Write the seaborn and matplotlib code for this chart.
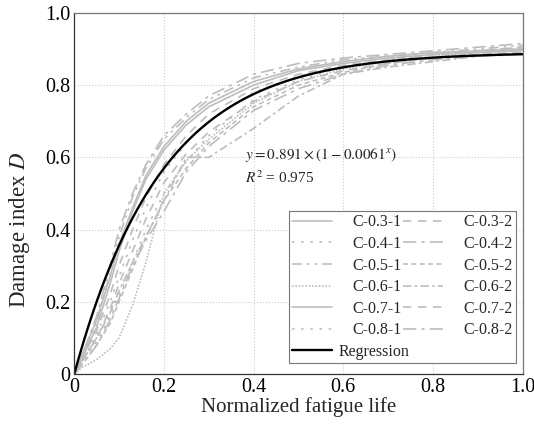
import numpy as np
import pandas as pd
import matplotlib
matplotlib.use("Agg")
import matplotlib.pyplot as plt
import seaborn as sns
from matplotlib.ticker import FuncFormatter
from matplotlib.transforms import Affine2D

sns.set_style("white")
plt.rcParams['font.family'] = ['Liberation Serif', 'DejaVu Serif']
plt.rcParams['mathtext.fontset'] = 'stix'

# normalized fatigue life (common sampling for the test curves)
vida = [0, 0.02, 0.05, 0.08, 0.10, 0.13, 0.16, 0.20, 0.25, 0.30,
        0.40, 0.50, 0.60, 0.70, 0.80, 0.90, 1.0]

# damage index D
c03_1 = [0, .06, .15, .27, .36, .46, .55, .63, .70, .75, .81, .845, .865, .88, .89, .895, .90]
c03_2 = [0, .05, .12, .22, .30, .40, .49, .58, .66, .72, .79, .83, .855, .87, .885, .895, .905]
c04_1 = [0, .04, .11, .20, .27, .37, .46, .56, .64, .70, .78, .825, .85, .87, .885, .895, .90]
c04_2 = [0, .06, .16, .30, .40, .50, .58, .66, .72, .77, .83, .86, .875, .885, .895, .905, .915]
c05_1 = [0, .05, .14, .28, .38, .49, .57, .65, .71, .76, .82, .85, .87, .88, .89, .90, .91]
c05_2 = [0, .03, .08, .14, .20, .29, .38, .48, .57, .64, .74, .80, .835, .86, .875, .89, .90]
c06_1 = [0, .02, .04, .07, .10, .19, .31, .50, .59, .65, .75, .81, .845, .865, .88, .89, .90]
c06_2 = [0, .04, .10, .17, .23, .31, .38, .48, .60, .60, .68, .77, .83, .85, .865, .88, .89]
c07_1 = [0, .05, .13, .25, .34, .45, .54, .62, .69, .74, .80, .84, .86, .875, .885, .89, .895]
c07_2 = [0, .04, .10, .18, .25, .34, .43, .53, .61, .67, .755, .81, .84, .86, .875, .885, .89]
c08_1 = [0, .04, .09, .16, .22, .31, .40, .50, .59, .66, .76, .815, .85, .87, .885, .895, .905]
c08_2 = [0, .03, .08, .15, .21, .30, .37, .45, .56, .63, .73, .79, .83, .855, .87, .88, .885]

# regression y = a*(1 - b^x)
a_reg = 0.891
b_reg = 0.0061

curvas = {
    'C-0.3-1': (c03_1, '-'),
    'C-0.4-1': (c04_1, (0, (1.5, 4))),
    'C-0.5-1': (c05_1, (0, (6, 3, 1.5, 3, 1.5, 3))),
    'C-0.6-1': (c06_1, (0, (1, 1))),
    'C-0.7-1': (c07_1, '-'),
    'C-0.8-1': (c08_1, (0, (1.5, 4))),
    'C-0.3-2': (c03_2, (0, (5, 4))),
    'C-0.4-2': (c04_2, (0, (8, 3, 2, 3))),
    'C-0.5-2': (c05_2, (0, (3, 2))),
    'C-0.6-2': (c06_2, (0, (5, 2, 1.5, 2))),
    'C-0.7-2': (c07_2, (0, (5, 4))),
    'C-0.8-2': (c08_2, (0, (8, 3, 2, 3))),
}

fig, ax = plt.subplots(figsize=(5.34, 4.28), dpi=100)
fig.subplots_adjust(left=0.139, right=0.979, bottom=0.126, top=0.970)

for nome, (vals, estilo) in curvas.items():
    df = pd.DataFrame({'x': vida, 'D': vals})
    sns.lineplot(data=df, x='x', y='D', ax=ax, color='#bdbdbd',
                 linewidth=1.2, linestyle=estilo, label=nome)

xr = np.linspace(0, 1, 200)
df_reg = pd.DataFrame({'x': xr, 'D': a_reg * (1 - b_reg ** xr)})
sns.lineplot(data=df_reg, x='x', y='D', ax=ax, color='black',
             linewidth=1.7, label='Regression')

ax.set_xlim(0, 1)
ax.set_ylim(0, 1)
ticks = [0, 0.2, 0.4, 0.6, 0.8, 1.0]
ax.set_xticks(ticks)
ax.set_yticks(ticks)
fmt = FuncFormatter(lambda v, p: '0' if v == 0 else f'{v:.1f}')
ax.xaxis.set_major_formatter(fmt)
ax.yaxis.set_major_formatter(fmt)
ax.tick_params(direction='in', length=5, width=0.8, labelsize=14.5,
               colors='#333333', labelcolor='black', pad=3)
ax.grid(True, linestyle=':', color='#cccccc', linewidth=0.8)
for lado in ['left', 'bottom']:
    ax.spines[lado].set_color('#333333')
for lado in ['top', 'right']:
    ax.spines[lado].set_color('#777777')
for s in ax.spines.values():
    s.set_linewidth(0.9)

ax.set_xlabel('Normalized fatigue life', fontsize=15, labelpad=0)
ax.set_ylabel('Damage index $D$', fontsize=16.5)
ax.yaxis.set_label_coords(-0.095, 0.40)

ax.text(0.38, 0.607, r'$y = 0.891\times(1-0.0061^{x})$', transform=ax.transAxes,
        fontsize=11, va='center')
ax.text(0.38, 0.543, r'$R^{2}$ = 0.975', transform=ax.transAxes,
        fontsize=11, va='center')

h, l = ax.get_legend_handles_labels()
ordem = ['C-0.3-1', 'C-0.4-1', 'C-0.5-1', 'C-0.6-1', 'C-0.7-1', 'C-0.8-1',
         'Regression', 'C-0.3-2', 'C-0.4-2', 'C-0.5-2', 'C-0.6-2', 'C-0.7-2', 'C-0.8-2']
mapa = dict(zip(l, h))
leg = ax.legend([mapa[k] for k in ordem], ordem, ncol=2, loc='lower right',
                bbox_to_anchor=(0.985, 0.03), fontsize=11.5, frameon=True,
                fancybox=False, framealpha=1, edgecolor='#777777',
                handlelength=2.5, handletextpad=1.3, columnspacing=-1.3,
                labelspacing=0.35, borderpad=0.2, borderaxespad=0)
leg.get_frame().set_linewidth(0.8)
# "Regression" sits closer to its handle, as in the original
t_reg = leg.get_texts()[ordem.index('Regression')]
t_reg.set_transform(t_reg.get_transform() + Affine2D().translate(-14, 0))

plt.savefig('out.png', dpi=100)
